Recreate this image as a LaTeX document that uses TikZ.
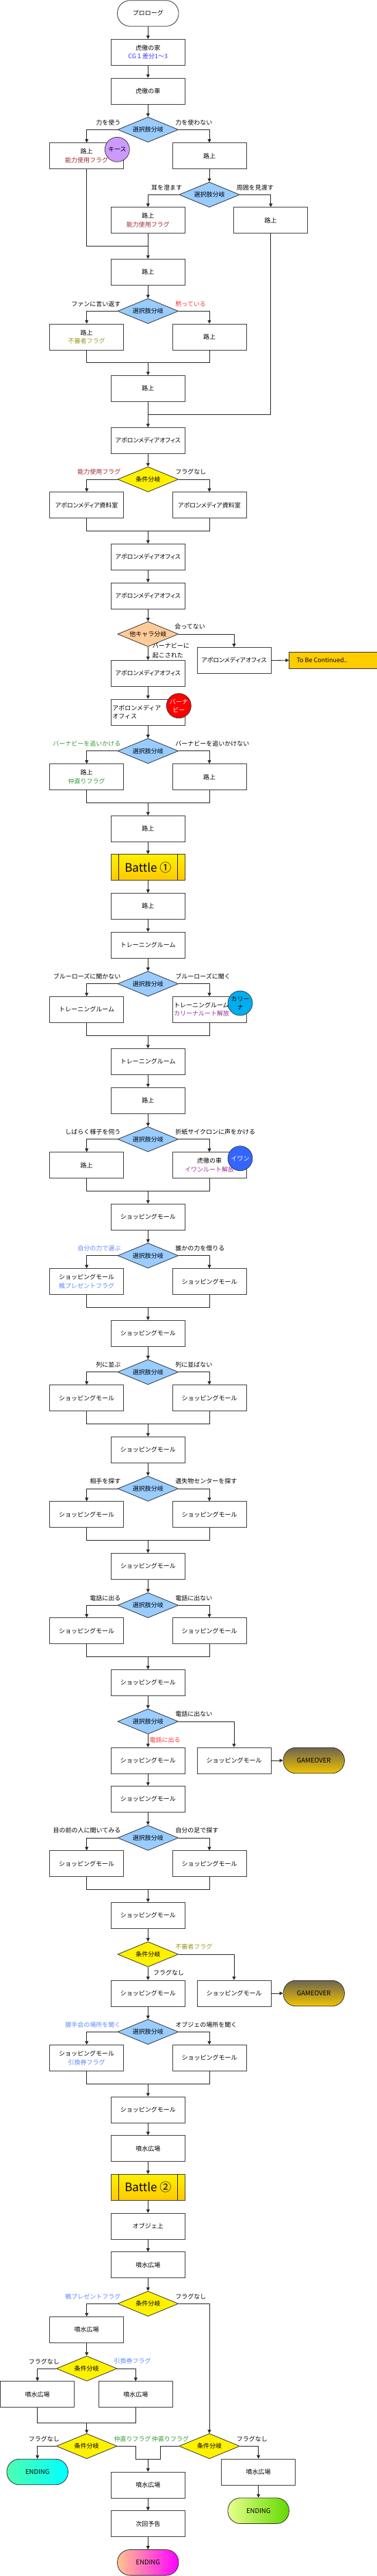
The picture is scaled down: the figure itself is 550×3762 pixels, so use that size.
\documentclass[tikz,border=0pt]{standalone}
\usepackage{fontspec}
\setmainfont{Noto Sans CJK JP}
\newfontfamily\jpp{Noto Sans CJK JP}[RawFeature=+palt]
\usetikzlibrary{shapes.geometric,arrows.meta,calc}
\definecolor{dblue}{HTML}{99CCFF}
\definecolor{dorange}{HTML}{FFCC99}
\definecolor{fred}{HTML}{A0282D}
\definecolor{folive}{HTML}{999922}
\definecolor{fgreen}{HTML}{339933}
\definecolor{fpurple}{HTML}{993399}
\definecolor{fblue}{HTML}{5C8AFF}
\definecolor{cgblue}{HTML}{3333FF}
\definecolor{lred}{HTML}{FF3333}
\definecolor{kpurple}{HTML}{CC99FF}
\definecolor{iblue}{HTML}{3366FF}
\definecolor{goldA}{HTML}{FFF000}
\definecolor{goldB}{HTML}{FFC800}
\definecolor{tbcgold}{HTML}{FFCC00}
\definecolor{goA}{HTML}{6E6450}
\definecolor{goB}{HTML}{F2C400}
\tikzset{
 base/.style={font=\fontsize{9}{12.5}\selectfont, inner sep=0pt, align=center},
 box/.style={base, rectangle, draw=black!75, line width=0.8pt, fill=white, minimum width=108pt, minimum height=38pt},
 lbox/.style={box, text width=104pt, align=left},
 dia/.style={base, diamond, draw=black!80, line width=0.8pt, fill=dblue, shape aspect=2.4, minimum width=88.7pt, minimum height=36.7pt},
 ydia/.style={dia, fill=yellow},
 odia/.style={dia, fill=dorange},
 term/.style={base, rectangle, rounded corners=18.5pt, draw=black!80, line width=0.8pt, fill=white, minimum width=89.5pt, minimum height=37.6pt},
 gameover/.style={term, top color=goA, bottom color=goB, font=\fontsize{9.5}{11}\selectfont},
 ecyan/.style={left color=cyan!55!green!70!white, right color=cyan, font=\fontsize{9.5}{11}\selectfont},
 egreen/.style={left color=green!20!yellow!45!white, right color=green!55!yellow!85!black, font=\fontsize{9.5}{11}\selectfont},
 emag/.style={left color=orange!45!white, right color=magenta, font=\fontsize{9.5}{11}\selectfont},
 battle/.style={box, top color=goldA, bottom color=goldB, font=\fontsize{17}{17}\selectfont},
 tbcbox/.style={base, rectangle, draw=black!80, line width=0.8pt, fill=tbcgold, minimum width=128.3pt, minimum height=23.7pt},
 chara/.style={base, circle, draw=black!80, line width=0.7pt, minimum size=36pt},
 lab/.style={base},
 ln/.style={draw=black!85, line width=0.8pt},
 arr/.style={ln, -{Triangle[length=5pt,width=5pt]}},
}
\newcommand\dlabs[3]{%
 \node[lab,anchor=east] (#1-l) at ($(#1.west)+(5,-10.5)$) {#2};
 \node[lab,anchor=west] (#1-r) at ($(#1.east)+(-5,-10.5)$) {#3};}
\newcommand\twoway[6]{%
 \draw[arr] (#1.west) -| (#2.north);
 \draw[arr] (#1.east) -| (#3.north);
 \coordinate (#4) at (\colC,#5);
 \draw[ln] (#2.south) |- (#4) -| (#3.south);
 \draw[arr] (#4) -- (#6);}
\begin{document}
\begin{tikzpicture}[x=1pt,y=-1pt]
\def\colL{126.7}\def\colC{216.3}\def\colR{306}\def\colF{395.7}\def\colG{342}
\useasboundingbox (0,0) rectangle (550,3762);
\fill[white] (0,0) rectangle (550,3762);

\node[term] (p0) at (\colC,19.5) {プロローグ};
\node[box] (n1) at (\colC,76.3) {虎徹の家\\\textcolor{cgblue}{CG１差分1～3}};
\node[box] (n2) at (\colC,133) {虎徹の車};
\node[dia] (d1) at (\colC,189.3) {選択肢分岐};
\node[box] (n3L) at (\colL,227.7) {路上\\\textcolor{fred}{能力使用フラグ}};
\node[box] (n3R) at (\colR,227.7) {路上};
\node[dia] (d2) at (\colR,284.3) {選択肢分岐};
\node[box] (n4C) at (\colC,321.7) {路上\\\textcolor{fred}{能力使用フラグ}};
\node[box] (n4R) at (\colF,321.7) {路上};
\node[box] (n5) at (\colC,397.3) {路上};
\node[dia] (d3) at (\colC,454.3) {選択肢分岐};
\node[box] (n6L) at (\colL,492) {路上\\\textcolor{folive}{不審者フラグ}};
\node[box] (n6R) at (\colR,492) {路上};
\node[box] (n7) at (\colC,567.3) {路上};
\node[box] (n8) at (\colC,643.3) {\jpp アポロンメディアオフィス};
\node[ydia] (d4) at (\colC,700) {条件分岐};
\node[box] (n9L) at (\colL,737.7) {\jpp アポロンメディア資料室};
\node[box] (n9R) at (\colR,737.7) {\jpp アポロンメディア資料室};
\node[box] (n10) at (\colC,813.3) {\jpp アポロンメディアオフィス};
\node[box] (n11) at (\colC,870) {\jpp アポロンメディアオフィス};
\node[odia] (d5) at (\colC,926) {他キャラ分岐};
\node[box] (n12R) at (\colG,964.5) {\jpp アポロンメディアオフィス};
\node[tbcbox] (tbc) at (486.85,964.2) {};
\node[base, anchor=west] (tbct) at (433.3,964.2) {To Be Continued..};
\node[box] (n12) at (\colC,983.3) {\jpp アポロンメディアオフィス};
\node[lbox] (n13) at (\colC,1040) {アポロンメディア\\オフィス};
\node[dia] (d6) at (\colC,1096.7) {選択肢分岐};
\node[box] (n14L) at (\colL,1134.7) {路上\\\textcolor{fgreen}{仲直りフラグ}};
\node[box] (n14R) at (\colR,1134.7) {路上};
\node[box] (n15) at (\colC,1210.3) {路上};
\node[battle] (b1) at (\colC,1266.7) {Battle ①};
\node[box] (n16) at (\colC,1323.5) {路上};
\node[box] (n17) at (\colC,1380.2) {トレーニングルーム};
\node[dia] (d7) at (\colC,1436.7) {選択肢分岐};
\node[box] (n18L) at (\colL,1474.3) {トレーニングルーム};
\node[lbox] (n18R) at (\colR,1474.3) {トレーニングルーム\\\textcolor{fpurple}{カリーナルート解放}};
\node[box] (n19) at (\colC,1550.3) {トレーニングルーム};
\node[box] (n20) at (\colC,1607.2) {路上};
\node[dia] (d8) at (\colC,1663.7) {選択肢分岐};
\node[box] (n21L) at (\colL,1701.7) {路上};
\node[box] (n21R) at (\colR,1701.7) {虎徹の車\\\textcolor{fpurple}{イワンルート解放}};
\node[box] (n22) at (\colC,1777.2) {ショッピングモール};
\node[dia] (d9) at (\colC,1833.7) {選択肢分岐};
\node[box] (n23L) at (\colL,1871.7) {ショッピングモール\\\textcolor{fblue}{楓プレゼントフラグ}};
\node[box] (n23R) at (\colR,1871.7) {ショッピングモール};
\node[box] (n24) at (\colC,1947.3) {ショッピングモール};
\node[dia] (d10) at (\colC,2003.7) {選択肢分岐};
\node[box] (n25L) at (\colL,2041.7) {ショッピングモール};
\node[box] (n25R) at (\colR,2041.7) {ショッピングモール};
\node[box] (n26) at (\colC,2117.3) {ショッピングモール};
\node[dia] (d11) at (\colC,2174) {選択肢分岐};
\node[box] (n27L) at (\colL,2211.7) {ショッピングモール};
\node[box] (n27R) at (\colR,2211.7) {ショッピングモール};
\node[box] (n28) at (\colC,2287.3) {ショッピングモール};
\node[dia] (d12) at (\colC,2344.3) {選択肢分岐};
\node[box] (n29L) at (\colL,2381.7) {ショッピングモール};
\node[box] (n29R) at (\colR,2381.7) {ショッピングモール};
\node[box] (n30) at (\colC,2457.3) {ショッピングモール};
\node[dia] (d13) at (\colC,2514) {選択肢分岐};
\node[box] (n31) at (\colC,2571) {ショッピングモール};
\node[box] (n31R) at (\colG,2571) {ショッピングモール};
\node[gameover] (go1) at (458.7,2571) {GAMEOVER};
\node[box] (n32) at (\colC,2627.3) {ショッピングモール};
\node[dia] (d14) at (\colC,2684) {選択肢分岐};
\node[box] (n33L) at (\colL,2721.7) {ショッピングモール};
\node[box] (n33R) at (\colR,2721.7) {ショッピングモール};
\node[box] (n34) at (\colC,2797.3) {ショッピングモール};
\node[ydia] (d15) at (\colC,2854) {条件分岐};
\node[box] (n35) at (\colC,2911) {ショッピングモール};
\node[box] (n35R) at (\colG,2911) {ショッピングモール};
\node[gameover] (go2) at (458.7,2911) {GAMEOVER};
\node[dia] (d16) at (\colC,2967.3) {選択肢分岐};
\node[box] (n36L) at (\colL,3005.3) {ショッピングモール\\\textcolor{fblue}{引換券フラグ}};
\node[box] (n36R) at (\colR,3005.3) {ショッピングモール};
\node[box] (n37) at (\colC,3081) {ショッピングモール};
\node[box] (n38) at (\colC,3137.7) {噴水広場};
\node[battle] (b2) at (\colC,3194.3) {Battle ②};
\node[box] (n39) at (\colC,3251) {オブジェ上};
\node[box] (n40) at (\colC,3307.7) {噴水広場};
\node[ydia] (d17) at (\colC,3364.3) {条件分岐};
\node[box] (n41) at (\colL,3402.3) {噴水広場};
\node[ydia] (d18) at (\colL,3459) {条件分岐};
\node[box] (n42L) at (54.7,3496.7) {噴水広場};
\node[box] (n42R) at (198.3,3496.7) {噴水広場};
\node[ydia] (d19) at (\colL,3572.3) {条件分岐};
\node[ydia] (d20) at (\colR,3572.3) {条件分岐};
\node[term, ecyan] (e1) at (54.7,3610) {ENDING};
\node[box] (n43) at (\colC,3629) {噴水広場};
\node[box] (n44R) at (377.7,3610) {噴水広場};
\node[term, egreen] (e2) at (377.7,3666.7) {ENDING};
\node[box] (n45) at (\colC,3685.7) {次回予告};
\node[term, emag] (e3) at (\colC,3742.3) {ENDING};

% battle side bars
\draw[ln] ([xshift=11pt]b1.north west) -- ([xshift=11pt]b1.south west);
\draw[ln] ([xshift=-11pt]b1.north east) -- ([xshift=-11pt]b1.south east);
\draw[ln] ([xshift=11pt]b2.north west) -- ([xshift=11pt]b2.south west);
\draw[ln] ([xshift=-11pt]b2.north east) -- ([xshift=-11pt]b2.south east);

% character circles
\node[chara, fill=kpurple] (c1) at (171.3,218.3) {キース};
\node[chara, fill=red, text=white] (c2) at (261.3,1030.7) {バーナ\\ビー};
\node[chara, fill=cyan] (c3) at (351,1465) {カリー\\ナ};
\node[chara, fill=iblue, text=white] (c4) at (351,1691.7) {イワン};

% connectors
\draw[arr] (p0) -- (n1);
\draw[arr] (n1) -- (n2);
\draw[arr] (n2) -- (d1);
\draw[arr] (d1.west) -| (n3L.north);
\draw[arr] (d1.east) -| (n3R.north);
\draw[arr] (n3R) -- (d2);
\draw[arr] (d2.west) -| (n4C.north);
\draw[arr] (d2.east) -| (n4R.north);
\coordinate (j1) at (\colC,359.3);
\draw[ln] (n3L.south) |- (j1);
\draw[arr] (n4C) -- (n5);
\draw[arr] (n5) -- (d3);
\twoway{d3}{n6L}{n6R}{m3}{529.7}{n7}
\coordinate (j2) at (\colC,605.3);
\draw[ln] (n4R.south) |- (j2);
\draw[arr] (n7) -- (n8);
\draw[arr] (n8) -- (d4);
\twoway{d4}{n9L}{n9R}{m4}{775.3}{n10}
\draw[arr] (n10) -- (n11);
\draw[arr] (n11) -- (d5);
\draw[arr] (d5.east) -| (n12R.north);
\draw[arr] (n12R.east) -- (tbc.west);
\draw[arr] (d5) -- (n12);
\draw[arr] (n12) -- (n13);
\draw[arr] (n13) -- (d6);
\twoway{d6}{n14L}{n14R}{m6}{1172.3}{n15}
\draw[arr] (n15) -- (b1);
\draw[arr] (b1) -- (n16);
\draw[arr] (n16) -- (n17);
\draw[arr] (n17) -- (d7);
\twoway{d7}{n18L}{n18R}{m7}{1512.3}{n19}
\draw[arr] (n19) -- (n20);
\draw[arr] (n20) -- (d8);
\twoway{d8}{n21L}{n21R}{m8}{1739.3}{n22}
\draw[arr] (n22) -- (d9);
\twoway{d9}{n23L}{n23R}{m9}{1909.3}{n24}
\draw[arr] (n24) -- (d10);
\twoway{d10}{n25L}{n25R}{m10}{2079.3}{n26}
\draw[arr] (n26) -- (d11);
\twoway{d11}{n27L}{n27R}{m11}{2249.3}{n28}
\draw[arr] (n28) -- (d12);
\twoway{d12}{n29L}{n29R}{m12}{2419.7}{n30}
\draw[arr] (n30) -- (d13);
\draw[arr] (d13) -- (n31);
\draw[arr] (d13.east) -| (n31R.north);
\draw[arr] (n31R.east) -- (go1.west);
\draw[arr] (n31) -- (n32);
\draw[arr] (n32) -- (d14);
\twoway{d14}{n33L}{n33R}{m14}{2759.7}{n34}
\draw[arr] (n34) -- (d15);
\draw[arr] (d15) -- (n35);
\draw[arr] (d15.east) -| (n35R.north);
\draw[arr] (n35R.east) -- (go2.west);
\draw[arr] (n35) -- (d16);
\twoway{d16}{n36L}{n36R}{m16}{3043.3}{n37}
\draw[arr] (n37) -- (n38);
\draw[arr] (n38) -- (b2);
\draw[arr] (b2) -- (n39);
\draw[arr] (n39) -- (n40);
\draw[arr] (n40) -- (d17);
\draw[arr] (d17.west) -| (n41.north);
\draw[arr] (d17.east) -| (d20.north);
\draw[arr] (n41) -- (d18);
\draw[arr] (d18.west) -| (n42L.north);
\draw[arr] (d18.east) -| (n42R.north);
\coordinate (m18) at (\colL,3538.3);
\draw[ln] (n42L.south) |- (m18) -| (n42R.south);
\draw[arr] (m18) -- (d19);
\draw[arr] (d19.west) -| (e1.north);
\coordinate (jA) at (\colC,3591.7);
\coordinate (jL) at (198.3,3591.7);
\coordinate (jR) at (234.3,3591.7);
\draw[ln] (d19.east) -| (jL) -- (jA);
\draw[ln] (d20.west) -| (jR) -- (jA);
\draw[arr] (jA) -- (n43);
\draw[arr] (d20.east) -| (n44R.north);
\draw[arr] (n44R) -- (e2);
\draw[arr] (n43) -- (n45);
\draw[arr] (n45) -- (e3);

% labels
\dlabs{d1}{力を使う}{力を使わない}
\dlabs{d2}{耳を澄ます}{周囲を見渡す}
\dlabs{d3}{ファンに言い返す}{\textcolor{lred}{黙っている}}
\dlabs{d4}{\textcolor{fred}{能力使用フラグ}}{フラグなし}
\node[lab,anchor=west] (d5-r) at ($(d5.east)+(-6,-10.5)$) {会ってない};
\node[lab,anchor=west,align=left,font=\fontsize{9}{14}\selectfont] (d5-b) at (222.7,950.5) {バーナビーに\\起こされた};
\dlabs{d6}{\textcolor{fgreen}{バーナビーを追いかける}}{バーナビーを追いかけない}
\dlabs{d7}{ブルーローズに聞かない}{ブルーローズに聞く}
\dlabs{d8}{しばらく様子を伺う}{折紙サイクロンに声をかける}
\dlabs{d9}{\textcolor{fblue}{自分の力で選ぶ}}{誰かの力を借りる}
\dlabs{d10}{列に並ぶ}{列に並ばない}
\dlabs{d11}{相手を探す}{遺失物センターを探す}
\dlabs{d12}{電話に出る}{電話に出ない}
\node[lab,anchor=west] (d13-r) at ($(d13.east)+(-5,-10.5)$) {電話に出ない};
\node[lab,anchor=west] (d13-b) at (218.3,2541.3) {\textcolor{lred}{電話に出る}};
\dlabs{d14}{目の前の人に聞いてみる}{自分の足で探す}
\node[lab,anchor=west] (d15-r) at ($(d15.east)+(-5,-10.5)$) {\textcolor{folive}{不審者フラグ}};
\node[lab,anchor=west] (d15-b) at (224,2880.7) {フラグなし};
\dlabs{d16}{\textcolor{fblue}{握手会の場所を聞く}}{オブジェの場所を聞く}
\dlabs{d17}{\textcolor{fblue}{楓プレゼントフラグ}}{フラグなし}
\dlabs{d18}{フラグなし}{\textcolor{fblue}{引換券フラグ}}
\dlabs{d19}{フラグなし}{\textcolor{fgreen}{仲直りフラグ}}
\node[lab,anchor=east] (d20-l) at ($(d20.west)+(15,-10.5)$) {\textcolor{fgreen}{仲直りフラグ}};
\node[lab,anchor=west] (d20-r) at ($(d20.east)+(-5,-10.5)$) {フラグなし};
\end{tikzpicture}
\end{document}
